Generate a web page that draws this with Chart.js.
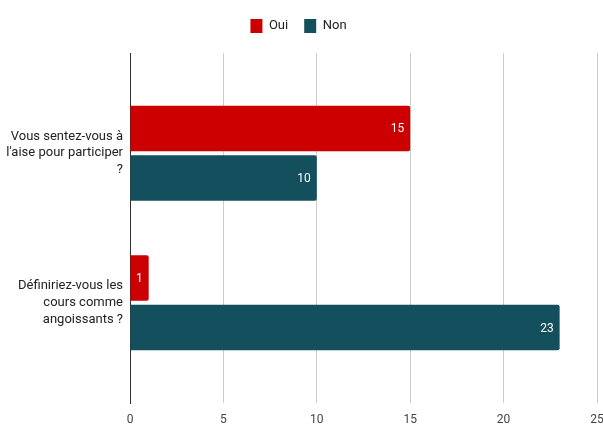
<!DOCTYPE html>
<html>
<head>
<meta charset="utf-8">
<script src="https://cdn.jsdelivr.net/npm/chart.js@4/dist/chart.umd.min.js"></script>
<style>
  html, body { margin: 0; padding: 0; background: #ffffff; }
  #wrap { width: 603px; height: 426px; position: relative; }
</style>
</head>
<body>
<div id="wrap"><canvas id="c" width="603" height="426"></canvas></div>
<script>
const categories = [
  ["Vous sentez-vous à", "l'aise pour participer", "?"],
  ["Définiriez-vous les", "cours comme", "angoissants ?"]
];
const seriesNames = ["Oui", "Non"];
const ouiValues = [15, 1];
const nonValues = [10, 23];
const xTicks = [0, 5, 10, 15, 20, 25];

const colors = ["#cc0000", "#134f5c"];
const FONT = "Roboto, 'Liberation Sans', Arial, sans-serif";

const valueLabels = {
  id: "valueLabels",
  afterDatasetsDraw(chart) {
    const ctx = chart.ctx;
    ctx.save();
    ctx.font = "12px " + FONT;
    ctx.fillStyle = "#ffffff";
    ctx.textAlign = "right";
    ctx.textBaseline = "middle";
    chart.data.datasets.forEach((ds, di) => {
      const meta = chart.getDatasetMeta(di);
      meta.data.forEach((bar, i) => {
        ctx.fillText(String(ds.data[i]), bar.x - 6, bar.y + 1);
      });
    });
    ctx.restore();
  }
};

new Chart(document.getElementById("c"), {
  type: "bar",
  data: {
    labels: categories,
    datasets: [
      { label: seriesNames[0], data: ouiValues, backgroundColor: colors[0], borderRadius: 2, borderSkipped: "start" },
      { label: seriesNames[1], data: nonValues, backgroundColor: colors[1], borderRadius: 2, borderSkipped: "start" }
    ]
  },
  options: {
    indexAxis: "y",
    responsive: false,
    animation: false,
    devicePixelRatio: 1,
    layout: { padding: { top: 3, right: 6, left: 0, bottom: 0 } },
    datasets: { bar: { categoryPercentage: 0.662, barPercentage: 0.92 } },
    plugins: {
      legend: {
        position: "top",
        align: "center",
        labels: {
          boxWidth: 12,
          boxHeight: 14,
          padding: 16,
          color: "#222222",
          font: { family: FONT, size: 13 }
        }
      },
      tooltip: { enabled: false }
    },
    scales: {
      x: {
        type: "linear",
        position: "bottom",
        min: 0,
        max: 25,
        afterBuildTicks: (s) => { s.ticks = xTicks.map(v => ({ value: v })); },
        afterFit: (s) => { s.height = 23; s.paddingLeft = 0; s.paddingRight = 0; },
        grid: {
          drawTicks: false,
          color: (c) => (c.tick && c.tick.value === 0) ? "#333333" : "#cccccc",
          lineWidth: 1
        },
        border: { display: false },
        ticks: { padding: 10, color: "#444444", font: { family: FONT, size: 12 } }
      },
      xTop: {
        type: "linear",
        position: "top",
        display: true,
        grid: { display: false },
        border: { display: false },
        ticks: { display: false },
        afterFit: (s) => { s.height = 10; s.paddingLeft = 0; s.paddingRight = 0; }
      },
      y: {
        type: "category",
        offset: true,
        afterBuildTicks: (s) => { s._startValue = -0.67; s._valueRange = 2.34; },
        afterFit: (s) => { s.width = 130; s.paddingTop = 0; s.paddingBottom = 0; },
        grid: { display: false, drawTicks: false },
        border: { display: true, color: "#333333", width: 1 },
        ticks: {
          padding: 7,
          color: "#222222",
          font: { family: FONT, size: 13, lineHeight: 1.3 }
        }
      }
    }
  },
  plugins: [valueLabels]
});
</script>
</body>
</html>
